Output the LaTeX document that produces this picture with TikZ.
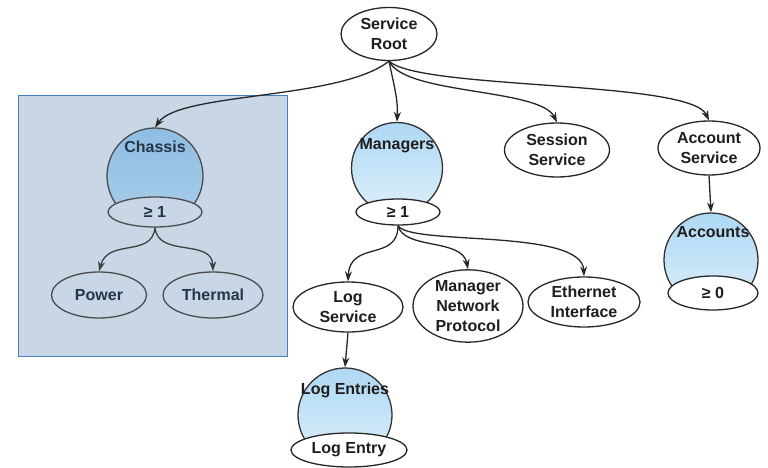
\documentclass[tikz,border=0pt]{standalone}
\usepackage{fontspec}
\setmainfont{Liberation Sans}
\usetikzlibrary{arrows.meta,shapes.geometric}
\definecolor{rectbg}{HTML}{C8D6E6}
\definecolor{rectborder}{HTML}{4A7EBB}
\definecolor{topblue}{HTML}{AED8F4}
\definecolor{botblue}{HTML}{DDEFFA}
\definecolor{chtop}{HTML}{8FBDE2}
\definecolor{chbot}{HTML}{A9CEEA}
\definecolor{inktxt}{HTML}{1E1E1E}
\definecolor{navytxt}{HTML}{26364A}
\tikzset{
  every node/.style={font=\fontsize{16}{20}\selectfont\bfseries, text=inktxt, inner sep=0pt},
  oval/.style={draw=black!85, line width=1.3pt, ellipse, fill=white, align=center},
  coll/.style={draw=black!80, line width=1.3pt, circle, minimum size=#1, top color=topblue, bottom color=botblue},
  link/.style={draw=black!85, line width=1.3pt, -{Stealth[length=10pt,width=7pt]}},
  inbox/.style={text=navytxt},
}
\begin{document}
\begin{tikzpicture}[x=1pt,y=-1pt]
\useasboundingbox (0,0) rectangle (768,468);
% blue box
\node[draw=rectborder, line width=1.2pt, fill=rectbg, minimum width=269pt, minimum height=261pt, anchor=north west] (box) at (18,95) {};

% root
\node[oval, minimum width=96pt, minimum height=53pt] (root) at (389,34) {Service\\Root};

% chassis
\node[coll=96pt, draw=black!70, top color=chtop, bottom color=chbot] (chassis) at (155,176) {};
\node[inbox] (chassislbl) at (155,147) {Chassis};
\node[oval, draw=black!70, fill=rectbg, minimum width=94pt, minimum height=30pt] (chn) at (155,212) {\textcolor{navytxt}{≥ 1}};
\node[oval, draw=black!70, fill=rectbg, minimum width=95pt, minimum height=46pt] (power) at (99,295) {\textcolor{navytxt}{Power}};
\node[oval, draw=black!70, fill=rectbg, minimum width=100pt, minimum height=46pt] (thermal) at (213,295) {\textcolor{navytxt}{Thermal}};

% managers
\node[coll=91pt] (managers) at (397,168) {};
\node (managerslbl) at (397,146) {Managers};
\node[oval, minimum width=84pt, minimum height=26pt] (mgn) at (398,212) {≥ 1};

% session
\node[oval, minimum width=105pt, minimum height=54pt] (session) at (557,150) {Session\\Service};

% account service
\node[oval, minimum width=102pt, minimum height=54pt] (accsvc) at (709,148) {Account\\Service};
\node[coll=94pt] (accounts) at (711,260) {};
\node (accountslbl) at (713,232) {Accounts};
\node[oval, minimum width=90pt, minimum height=34pt] (accn) at (713,293) {≥ 0};

% managers children
\node[oval, minimum width=110pt, minimum height=50pt] (logsvc) at (348,307) {Log\\Service};
\node[oval, minimum width=110pt, minimum height=72pt] (mnp) at (468,306) {Manager\\Network\\Protocol};
\node[oval, minimum width=112pt, minimum height=50pt] (eth) at (584,302) {Ethernet\\Interface};

% log entries
\node[coll=94pt] (logentries) at (345,415) {};
\node (logentrieslbl) at (345,390) {Log Entries};
\node[oval, minimum width=116pt, minimum height=34pt] (logentry) at (349,450) {Log Entry};

% connectors
\draw[link] (root.south) .. controls (340,100) and (180,92) .. (chassis.north);
\draw[link] (root.south) .. controls (395,90) and (398,100) .. (managers.north);
\draw[link] (root.south) .. controls (405,95) and (540,88) .. (session.north);
\draw[link] (root.south) .. controls (420,90) and (690,80) .. (accsvc.north);
\draw[link] (accsvc.south) -- (accounts.north);

\draw[link, draw=black!75] (chn.south) .. controls (152,258) and (108,238) .. (power.north);
\draw[link, draw=black!75] (chn.south) .. controls (158,258) and (212,238) .. (thermal.north);

\draw[link] (mgn.south) .. controls (398,262) and (350,240) .. (logsvc.north);
\draw[link] (mgn.south) .. controls (404,250) and (462,238) .. (mnp.north);
\draw[link] (mgn.south) .. controls (410,246) and (582,228) .. (eth.north);
\draw[link] (logsvc.south) -- (logentries.north);
\end{tikzpicture}
\end{document}
